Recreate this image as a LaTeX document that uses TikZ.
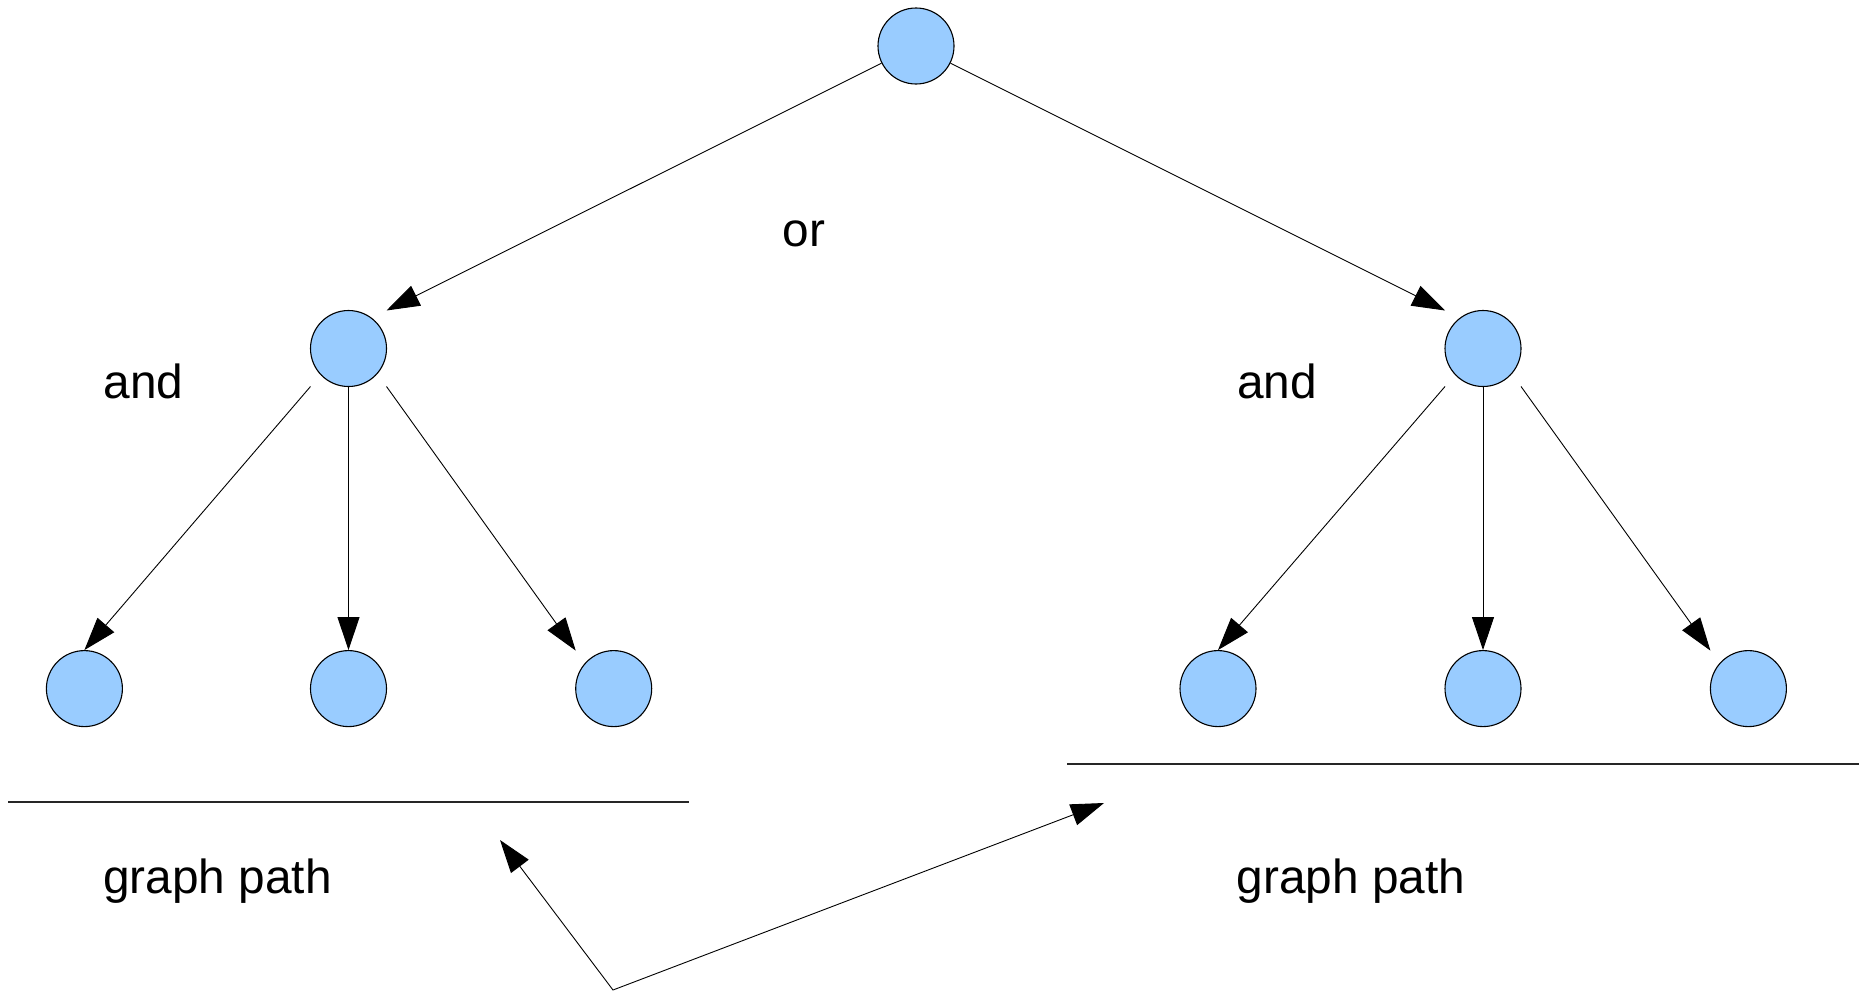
\documentclass[tikz,border=0pt]{standalone}
\usepackage{fontspec}
\setmainfont{Liberation Sans}
\usetikzlibrary{arrows.meta,calc}
\definecolor{nodeblue}{HTML}{99CCFF}
\tikzset{
  vert/.style={circle, draw=black, fill=nodeblue, line width=1.1pt, minimum size=76pt, inner sep=0pt},
  conn/.style={line width=0.9pt, -{Triangle[length=33pt,width=22pt]}},
  lbl/.style={anchor=base west, inner sep=0pt, font=\fontsize{47.8}{57}\selectfont},
  rule/.style={line width=1.1pt, draw=black!85}
}
\begin{document}
\begin{tikzpicture}[x=1pt,y=-1pt]
\useasboundingbox (0,0) rectangle (1865,993);
% nodes
\node[vert] (T) at (916,46) {};
\node[vert] (L) at (348.5,348.5) {};
\node[vert] (R) at (1483,348.5) {};
\node[vert] (L1) at (84.4,688.6) {};
\node[vert] (L2) at (348.5,688.6) {};
\node[vert] (L3) at (613.7,688.6) {};
\node[vert] (R1) at (1218,688.6) {};
\node[vert] (R2) at (1483,688.6) {};
\node[vert] (R3) at (1748.4,688.6) {};
% labels
\node[lbl] (or) at (782.5,246) {or};
\node[lbl] (andL) at (103.5,398.3) {and};
\node[lbl] (andR) at (1236.8,398.3) {and};
\node[lbl] (gpL) at (103,893.3) {graph path};
\node[lbl] (gpR) at (1236.5,893.3) {graph path};
% connectors
\draw[conn] (T) -- ($(L)+(38,-38)$);
\draw[conn] (T) -- ($(R)+(-38,-38)$);
\draw[conn] ($(L)+(-38,38)$) -- (L1.north);
\draw[conn] (L.south) -- (L2.north);
\draw[conn] ($(L)+(38,38)$) -- ($(L3)+(-38,-38)$);
\draw[conn] ($(R)+(-38,38)$) -- (R1.north);
\draw[conn] (R.south) -- (R2.north);
\draw[conn] ($(R)+(38,38)$) -- ($(R3)+(-38,-38)$);
% rules
\coordinate (rl1) at (8,802);
\coordinate (rl2) at (689,802);
\coordinate (rr1) at (1067,764);
\coordinate (rr2) at (1859,764);
\draw[rule] (rl1) -- (rl2);
\draw[rule] (rr1) -- (rr2);
% bottom arrow
\coordinate (ba) at (500,840);
\coordinate (bc) at (613,990);
\coordinate (bb) at (1104,803);
\draw[line width=0.9pt, {Triangle[length=33pt,width=22pt]}-{Triangle[length=33pt,width=22pt]}] (ba) -- (bc) -- (bb);
\end{tikzpicture}
\end{document}
